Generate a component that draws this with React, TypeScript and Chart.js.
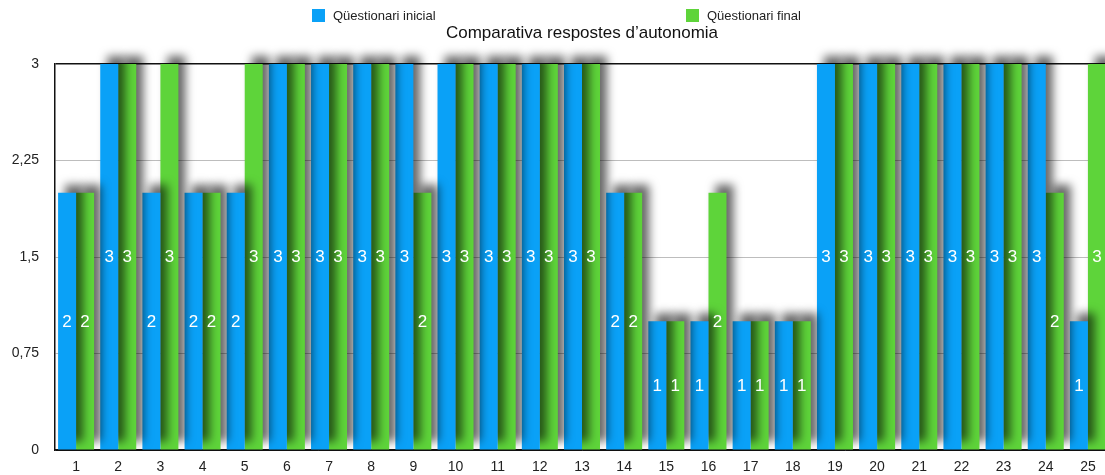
import React, { useEffect, useRef } from "react";
import { Chart, registerables } from "chart.js";

Chart.register(...registerables);

const categories = [
  "1", "2", "3", "4", "5", "6", "7", "8", "9", "10", "11", "12", "13",
  "14", "15", "16", "17", "18", "19", "20", "21", "22", "23", "24", "25",
];
const inicial = [2, 3, 2, 2, 2, 3, 3, 3, 3, 3, 3, 3, 3, 2, 1, 1, 1, 1, 3, 3, 3, 3, 3, 3, 1];
const final = [2, 3, 3, 2, 3, 3, 3, 3, 2, 3, 3, 3, 3, 2, 1, 2, 1, 1, 3, 3, 3, 3, 3, 2, 3];
const yTicks = [0, 0.75, 1.5, 2.25, 3];
const seriesNames = ["Qüestionari inicial", "Qüestionari final"];
const chartTitle = "Comparativa respostes d’autonomia";

const BLUE = "#0aa1f7";
const GREEN = "#5ed43a";
const FONT = "'Liberation Sans', Arial, Helvetica, sans-serif";

// Bars are painted from the right-most category to the left, each with a
// soft shadow cast up and to the right, so every bar's shadow falls on its
// right-hand neighbour and the background behind it.
const shadowedBars = {
  id: "shadowedBars",
  beforeDatasetsDraw(chart: any) {
    const { ctx, chartArea } = chart;
    const metas = chart.data.datasets.map((_: any, di: number) => chart.getDatasetMeta(di));
    const n = chart.data.labels.length;
    ctx.save();
    ctx.beginPath();
    ctx.rect(chartArea.left + 1, 0, chart.width, chartArea.bottom);
    ctx.clip();
    ctx.shadowColor = "rgba(0,0,0,0.6)";
    ctx.shadowBlur = 10;
    ctx.shadowOffsetX = 7;
    ctx.shadowOffsetY = -8;
    for (let i = n - 1; i >= 0; i--) {
      for (let d = metas.length - 1; d >= 0; d--) {
        const el = metas[d].data[i];
        if (el) el.draw(ctx, chartArea);
      }
    }
    ctx.restore();
    return false;
  },
};

// Value labels, legend row and title.
const textPlugin = {
  id: "texts",
  afterDraw(chart: any) {
    const { ctx, chartArea } = chart;
    ctx.save();
    ctx.fillStyle = "#ffffff";
    ctx.font = `17px ${FONT}`;
    ctx.textAlign = "center";
    ctx.textBaseline = "middle";
    chart.data.datasets.forEach((ds: any, di: number) => {
      const m = chart.getDatasetMeta(di);
      m.data.forEach((el: any, i: number) => {
        const p = el.getProps(["x", "y", "base"], true);
        ctx.fillText(String(ds.data[i]), p.x, (p.y + p.base) / 2 + 1);
      });
    });

    const legendX = [312, 686];
    chart.data.datasets.forEach((ds: any, i: number) => {
      ctx.fillStyle = ds.backgroundColor;
      ctx.fillRect(legendX[i], 9, 13, 13);
      ctx.fillStyle = "#222";
      ctx.font = `13px ${FONT}`;
      ctx.textAlign = "left";
      ctx.textBaseline = "middle";
      ctx.fillText(ds.label, legendX[i] + 21, 16);
    });
    ctx.fillStyle = "#111";
    ctx.font = `17px ${FONT}`;
    ctx.textAlign = "center";
    ctx.textBaseline = "middle";
    ctx.fillText(chartTitle, (chartArea.left + chartArea.right) / 2, 33);
    ctx.restore();
  },
};

export default function App() {
  const ref = useRef<HTMLCanvasElement>(null);

  useEffect(() => {
    if (!ref.current) return;
    const chart = new Chart(ref.current, {
      type: "bar",
      data: {
        labels: categories,
        datasets: [
          { label: seriesNames[0], data: inicial, backgroundColor: BLUE, categoryPercentage: 0.854, barPercentage: 1 },
          { label: seriesNames[1], data: final, backgroundColor: GREEN, categoryPercentage: 0.854, barPercentage: 1 },
        ],
      },
      options: {
        responsive: false,
        animation: false,
        layout: { padding: { top: 64, left: 0, right: 0, bottom: 0 } },
        plugins: {
          legend: { display: false },
          title: { display: false },
          tooltip: { enabled: false },
        },
        scales: {
          x: {
            grid: { display: false, drawTicks: false },
            border: { color: "#111", width: 1.5 },
            ticks: { color: "#222", font: { family: FONT, size: 14 }, padding: 9 },
            afterFit: (s: any) => { s.height = 25; },
          },
          y: {
            min: 0,
            max: 3,
            afterBuildTicks: (s: any) => { s.ticks = yTicks.map((v) => ({ value: v })); },
            grid: {
              drawTicks: false,
              color: (c: any) => (c.tick && (c.tick.value === 3 || c.tick.value === 0) ? "#111" : "#bdbdbd"),
              lineWidth: (c: any) => (c.tick && c.tick.value === 3 ? 1.5 : 1),
            },
            border: { color: "#111", width: 1.5 },
            ticks: {
              color: "#222",
              font: { family: FONT, size: 14 },
              padding: 16,
              callback: (v: any) => String(v).replace(".", ","),
            },
            afterFit: (s: any) => { s.width = 55; },
          },
        },
      },
      plugins: [shadowedBars, textPlugin],
    });
    return () => chart.destroy();
  }, []);

  return (
    <div style={{ position: "fixed", left: 0, top: 0, width: 1105, height: 475, overflow: "hidden", background: "#fff" }}>
      <canvas ref={ref} width={1109} height={475} style={{ display: "block" }} />
    </div>
  );
}
